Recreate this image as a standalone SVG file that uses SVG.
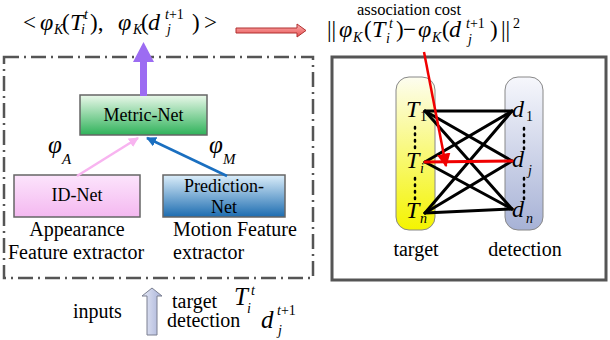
<svg xmlns="http://www.w3.org/2000/svg" width="610" height="340" viewBox="0 0 610 340" font-family="'Liberation Serif', 'Times New Roman', 'DejaVu Serif', serif">
<style>
text{font-family:'Liberation Serif','Times New Roman','DejaVu Serif',serif;fill:#000}
.t{font-size:20px}
.m{font-size:24px;font-style:italic}
.mu{font-size:23px}
.s{font-size:14px;font-style:italic}
.su{font-size:14px;font-style:normal}
.box{stroke:#666;stroke-width:1.5}
.edge{stroke:#000;stroke-width:3;fill:none;stroke-linecap:round}
.dots{stroke:#000;stroke-width:2.5;stroke-dasharray:1.5 5;stroke-linecap:round;fill:none}
</style>
<defs>
<linearGradient id="gGreen" x1="0" y1="0" x2="0" y2="1"><stop offset="0" stop-color="#eaf8ea"/><stop offset="1" stop-color="#2fb25a"/></linearGradient>
<linearGradient id="gPink" x1="0" y1="0" x2="0" y2="1"><stop offset="0" stop-color="#fce4fc"/><stop offset="1" stop-color="#f4b8f0"/></linearGradient>
<linearGradient id="gBlue" x1="0" y1="0" x2="0" y2="1"><stop offset="0" stop-color="#dceefa"/><stop offset="1" stop-color="#1c6cb0"/></linearGradient>
<linearGradient id="gYellow" x1="0" y1="0" x2="0" y2="1"><stop offset="0" stop-color="#fdfdf0"/><stop offset="1" stop-color="#f4f400"/></linearGradient>
<linearGradient id="gSlate" x1="0" y1="0" x2="0" y2="1"><stop offset="0" stop-color="#f6f7fc"/><stop offset="1" stop-color="#a7b2d6"/></linearGradient>
<linearGradient id="gRed" x1="0" y1="0" x2="0" y2="1"><stop offset="0" stop-color="#fbb0b0"/><stop offset="1" stop-color="#e85050"/></linearGradient>
<linearGradient id="gLav" x1="0" y1="0" x2="1" y2="0"><stop offset="0" stop-color="#e6e9f6"/><stop offset="1" stop-color="#a9b3d9"/></linearGradient>
<marker id="aPink" viewBox="0 0 10 10" refX="9" refY="5" markerWidth="4" markerHeight="4" orient="auto" markerUnits="strokeWidth"><path d="M0,0 L10,5 L0,10 z" fill="#f8b4f0"/></marker>
<marker id="aBlue" viewBox="0 0 10 10" refX="9" refY="5" markerWidth="4" markerHeight="4" orient="auto" markerUnits="strokeWidth"><path d="M0,0 L10,5 L0,10 z" fill="#1a6fc0"/></marker>
<marker id="aRed" viewBox="0 0 10 10" refX="9" refY="5" markerWidth="5.5" markerHeight="5.5" orient="auto" markerUnits="strokeWidth"><path d="M0,0 L10,5 L0,10 z" fill="#f00000"/></marker>
</defs>

<!-- top-left formula -->
<g id="formula-embedding">
<text class="mu" x="23" y="30">&lt;</text>
<text class="m" x="40" y="30">φ</text><text class="s" x="54" y="34">K</text>
<text class="mu" x="62" y="30">(</text>
<text class="m" x="70" y="30">T</text><text class="s" x="84" y="19">t</text><text class="s" x="81" y="34">i</text>
<text class="mu" x="90" y="30">),</text>
<text class="m" x="118" y="30">φ</text><text class="s" x="133" y="34">K</text>
<text class="mu" x="141" y="30">(</text>
<text class="m" x="148" y="30">d</text><text class="s" x="165" y="19">t<tspan class="su">+1</tspan></text><text class="s" x="167" y="34">j</text>
<text class="mu" x="192" y="30">)</text>
<text class="mu" x="204" y="30">&gt;</text>
</g>

<!-- association cost formula -->
<g id="formula-cost">
<text class="t" x="409" y="15" text-anchor="middle" style="font-size:16.5px">association cost</text>
<text class="mu" x="327" y="37">||</text>
<text class="m" x="339" y="37">φ</text><text class="s" x="353" y="42">K</text>
<text class="mu" x="364" y="37">(</text>
<text class="m" x="372" y="37">T</text><text class="s" x="389" y="28">t</text><text class="s" x="386" y="43">i</text>
<text class="mu" x="396" y="37">)</text>
<text class="mu" x="403" y="37">−</text>
<text class="m" x="418" y="37">φ</text><text class="s" x="432" y="42">K</text>
<text class="mu" x="442" y="37">(</text>
<text class="m" x="449" y="37">d</text><text class="s" x="466" y="28">t<tspan class="su">+1</tspan></text><text class="s" x="468" y="44">j</text>
<text class="mu" x="490" y="37">)</text>
<text class="mu" x="501" y="37">||</text>
<text class="su" x="513" y="28">2</text>
</g>

<!-- extractor frame -->
<g id="extractor-frame">
<rect x="4" y="57" width="309" height="221" fill="none" stroke="#555" stroke-width="2.5" stroke-dasharray="15 5 2 5"/>
</g>

<g id="metric-net">
<rect class="box" x="80" y="95" width="127" height="40" fill="url(#gGreen)"/>
<text class="t" x="143.5" y="121" text-anchor="middle" style="font-size:18px">Metric-Net</text>
</g>

<g id="id-net">
<rect class="box" x="14" y="175" width="126" height="42" fill="url(#gPink)"/>
<text class="t" x="77" y="201" text-anchor="middle" style="font-size:18px">ID-Net</text>
<text class="t" x="77" y="236" text-anchor="middle">Appearance</text>
<text class="t" x="8" y="259">Feature extractor</text>
<text class="m" x="48" y="153" style="font-size:25px">φ</text><text class="s" x="62" y="164" style="font-size:15px">A</text>
</g>

<g id="prediction-net">
<rect class="box" x="163" y="175" width="122" height="42" fill="url(#gBlue)"/>
<text class="t" x="224" y="192" text-anchor="middle" style="font-size:18px">Prediction-</text>
<text class="t" x="224" y="213" text-anchor="middle" style="font-size:18px">Net</text>
<text class="t" x="173" y="236">Motion Feature</text>
<text class="t" x="173" y="259">extractor</text>
<text class="m" x="209" y="153" style="font-size:25px">φ</text><text class="s" x="223" y="164" style="font-size:15px">M</text>
</g>

<!-- inputs -->
<g id="inputs">
<text class="t" x="73" y="318">inputs</text>
<path d="M152,288 L162,296 L157,296 L157,335 L147,335 L147,296 L142,296 Z" fill="url(#gLav)" stroke="#7a7f90" stroke-width="1"/>
<text class="t" x="172" y="308">target</text>
<text class="t" x="167" y="327">detection</text>
<text class="m" x="234" y="305" style="font-size:25px">T</text><text class="s" x="251" y="295">t</text><text class="s" x="247" y="313">i</text>
<text class="m" x="261" y="328" style="font-size:25px">d</text><text class="s" x="277" y="315">t<tspan class="su">+1</tspan></text><text class="s" x="278" y="335">j</text>
</g>

<!-- association graph -->
<g id="assoc-frame">
<rect x="332" y="57" width="274" height="223" fill="#fff" stroke="#555" stroke-width="3"/>
</g>

<g id="target-set">
<rect x="396" y="77" width="39" height="153" rx="13" fill="url(#gYellow)" stroke="#888" stroke-width="1"/>
<text class="m" x="406" y="117">T</text><text class="su" x="420" y="121">1</text>
<text class="m" x="406" y="168">T</text><text class="s" x="420" y="173">i</text>
<text class="m" x="406" y="218">T</text><text class="s" x="420" y="223">n</text>
<path class="dots" d="M415,127 V148 M415,178 V200"/>
<text class="t" x="416" y="256" text-anchor="middle">target</text>
</g>

<g id="detection-set">
<rect x="505" y="77" width="38" height="153" rx="13" fill="url(#gSlate)" stroke="#888" stroke-width="1"/>
<text class="m" x="512" y="117">d</text><text class="su" x="526" y="121">1</text>
<text class="m" x="512" y="167">d</text><text class="s" x="528" y="175">j</text>
<text class="m" x="512" y="217">d</text><text class="s" x="526" y="223">n</text>
<path class="dots" d="M524,128 V150 M524,178 V200"/>
<text class="t" x="525" y="256" text-anchor="middle">detection</text>
</g>

<g id="connectors">
<path d="M236,28 H297 V24 L306,30.5 L297,37 V33 H236 Z" fill="url(#gRed)" stroke="#b03030" stroke-width="1"/>
<path d="M140,96 V62 H133 L143.5,42 L154,62 H147 V96 Z" fill="#9c6cf2"/>
<line x1="77" y1="176" x2="138" y2="138" stroke="#f8b4f0" stroke-width="2.5" marker-end="url(#aPink)"/>
<line x1="227" y1="176" x2="147" y2="138" stroke="#1a6fc0" stroke-width="2.5" marker-end="url(#aBlue)"/>
<line class="edge" x1="425" y1="111" x2="512" y2="111"/>
<line class="edge" x1="425" y1="111" x2="512" y2="161"/>
<line class="edge" x1="425" y1="111" x2="512" y2="209"/>
<line class="edge" x1="425" y1="162" x2="512" y2="111"/>
<line class="edge" x1="425" y1="162" x2="512" y2="209"/>
<line class="edge" x1="425" y1="213" x2="512" y2="111"/>
<line class="edge" x1="425" y1="213" x2="512" y2="161"/>
<line class="edge" x1="425" y1="213" x2="512" y2="209"/>
<line x1="425" y1="162" x2="512" y2="161" stroke="#f00000" stroke-width="3" stroke-linecap="round"/>
<line x1="424" y1="52" x2="446" y2="166" stroke="#f00000" stroke-width="2.5" marker-end="url(#aRed)"/>
</g>
</svg>
